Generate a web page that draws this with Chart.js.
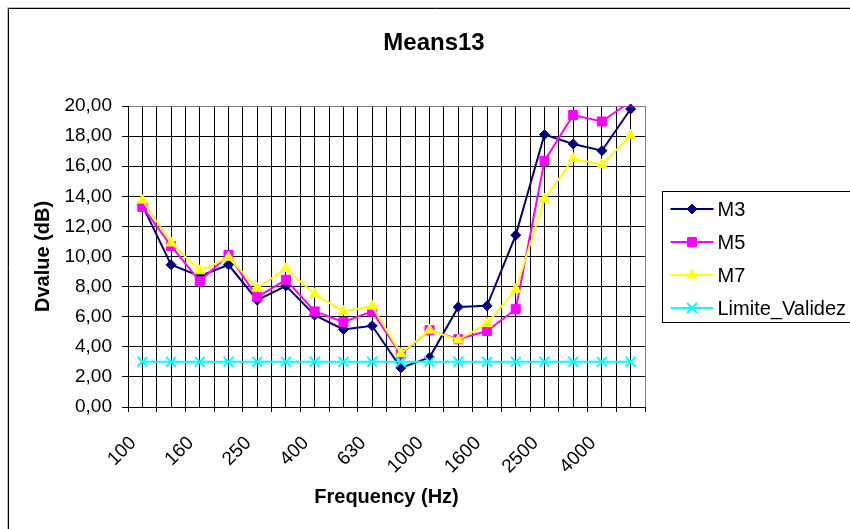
<!DOCTYPE html>
<html><head><meta charset="utf-8">
<script src="https://cdn.jsdelivr.net/npm/chart.js@4.4.1/dist/chart.umd.min.js"></script>
<style>
html,body{margin:0;padding:0;background:#fff;overflow:hidden}
#wrap{position:absolute;left:0;top:0;width:864px;height:529px}
</style></head><body>
<div id="wrap"><canvas id="chart"></canvas></div>
<script>
/* ===== datos (frecuencias en tercios de octava) ===== */
const FREQS=['100','125','160','200','250','315','400','500','630','800','1000','1250','1600','2000','2500','3150','4000','5000'];
const M3=[13.4,9.45,8.7,9.45,7.1,8.05,6.1,5.15,5.4,2.6,3.3,6.65,6.72,11.42,18.1,17.48,17.03,19.8];
const M5=[13.3,10.7,8.35,10.1,7.3,8.45,6.35,5.65,6.35,3.5,5.1,4.5,5.05,6.5,16.35,19.4,18.97,20.3];
const M7=[13.75,10.9,9.05,9.95,7.9,9.2,7.5,6.35,6.7,3.55,5.1,4.45,5.55,7.8,13.8,16.5,16.1,18.05];
const LIMITE=[3,3,3,3,3,3,3,3,3,3,3,3,3,3,3,3,3,3];
const Y_MIN=0,Y_MAX=20,Y_STEP=2;

const FONT='"Liberation Sans", Arial, sans-serif';
const SERIES=[{label:'M3',data:M3,color:'#000080',style:'rectRot',r:5,clip:8},
              {label:'M5',data:M5,color:'#FF00FF',style:'rect',r:6.4,clip:0},
              {label:'M7',data:M7,color:'#FFFF00',style:'triangle',r:6,clip:8},
              {label:'Limite_Validez',data:LIMITE,color:'#00FFFF',style:'crossRot',r:7,clip:8}];

// marco exterior + leyenda estilo Excel (linea con marcador)
const frameLegend={id:'frameLegend',afterDraw(chart){
  const c=chart.ctx,W=chart.width,H=chart.height,a=chart.chartArea;
  c.save();
  c.lineWidth=1;
  c.strokeStyle='#c0c0c0';c.beginPath();c.moveTo(7.5,H);c.lineTo(7.5,7.5);c.lineTo(W,7.5);c.stroke();
  c.strokeStyle='#000';c.beginPath();c.moveTo(8.5,H);c.lineTo(8.5,8.5);c.lineTo(W,8.5);c.stroke();
  const lx=a.right+17.5,ly=191.5;
  c.strokeRect(lx,ly,W,131);
  c.font='20px '+FONT;c.textBaseline='middle';c.textAlign='left';
  SERIES.forEach((s,i)=>{
    const y=209+i*33,x0=lx+8,x1=lx+51,xm=(x0+x1)/2;
    c.strokeStyle=s.color;c.fillStyle=s.color;c.lineWidth=2;
    c.beginPath();c.moveTo(x0,y);c.lineTo(x1,y);c.stroke();
    c.lineWidth=s.style==='crossRot'?2:1;
    Chart.helpers.drawPoint(c,{pointStyle:s.style,radius:s.r,rotation:0,borderWidth:c.lineWidth},xm,y);
    c.fillStyle='#000';c.fillText(s.label,x1+4,y+1);
  });
  c.restore();
}};

new Chart(document.getElementById('chart'),{
  type:'line',
  data:{labels:FREQS,datasets:SERIES.map((s,i)=>({label:s.label,data:s.data,borderColor:s.color,backgroundColor:s.color,
    borderWidth:2,pointStyle:s.style,pointRadius:s.r,pointHoverRadius:s.r,pointBorderWidth:s.style==='crossRot'?2:1,
    tension:0,order:SERIES.length-i,clip:s.clip}))},
  options:{responsive:true,maintainAspectRatio:false,animation:false,events:[],
    layout:{padding:{left:4,right:0,top:0,bottom:0}},
    plugins:{legend:{display:false},tooltip:{enabled:false},
      title:{display:true,text:'Means13',color:'#000',font:{family:FONT,size:24,weight:'bold'},padding:{top:28.6,bottom:48.6}}},
    scales:{
      x:{type:'category',offset:true,
         grid:{offset:true,color:c=>c.tick?'#000':'#808080',tickLength:5,tickColor:'#000'},
         border:{color:'#000'},
         ticks:{autoSkip:false,minRotation:45,maxRotation:45,padding:20,labelOffset:-9,color:'#000',font:{family:FONT,size:19},
                callback:(v,i)=>i%2===0?FREQS[i]:''},
         title:{display:true,text:'Frequency (Hz)',color:'#000',font:{family:FONT,size:20,weight:'bold'},padding:{top:0,bottom:20}},
         afterFit:s=>{s.height=122;}},
      xg:{type:'category',position:'bottom',offset:true,
         grid:{offset:false,color:'#000',drawTicks:false},border:{display:false},ticks:{display:false},
         afterFit:s=>{s.height=0;}},
      y:{min:Y_MIN,max:Y_MAX,
         grid:{color:c=>c.tick&&c.tick.value===Y_MAX?'#808080':'#000',tickLength:6,tickColor:'#000'},
         border:{color:'#000'},
         ticks:{stepSize:Y_STEP,padding:10,color:'#000',font:{family:FONT,size:19},callback:v=>v.toFixed(2).replace('.',',')},
         title:{display:true,text:'Dvalue (dB)',color:'#000',font:{family:FONT,size:20,weight:'bold'},padding:{top:27,bottom:0}},
         afterFit:s=>{s.width=124;}},
      yr:{position:'right',grid:{display:false},border:{display:false},ticks:{display:false},afterFit:s=>{s.width=219;}}
    }},
  plugins:[frameLegend]
});
</script>
</body></html>
